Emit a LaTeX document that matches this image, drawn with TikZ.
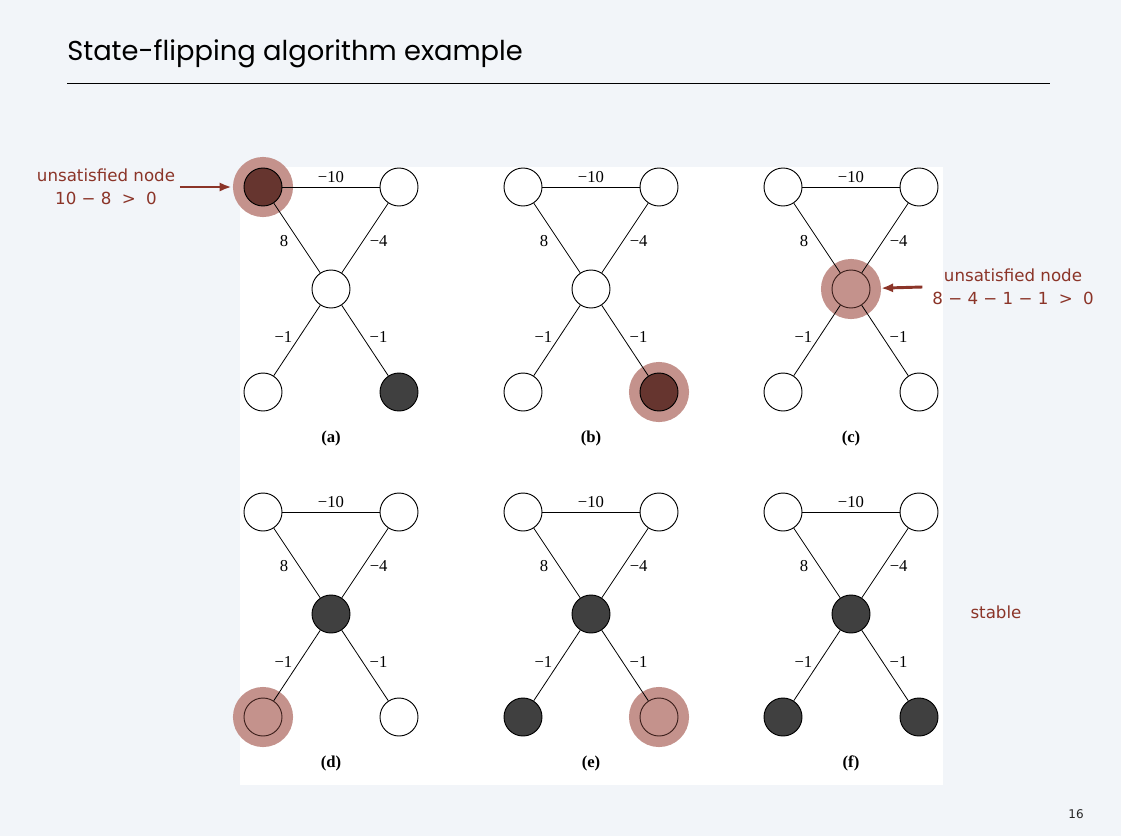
\documentclass[tikz,border=0pt]{standalone}
\usepackage{fontspec}
\setmainfont{Liberation Serif}
\newfontfamily\titlefont{Poppins}
\newfontfamily\notefont{DejaVu Sans}
\usetikzlibrary{arrows.meta}

\definecolor{bgc}{HTML}{F2F5F9}
\definecolor{haloc}{HTML}{C4928C}
\definecolor{darkc}{HTML}{404040}
\definecolor{udarkc}{HTML}{66352F}
\definecolor{notec}{HTML}{8B3428}

\tikzset{
  vert/.style={circle, draw=black, line width=0.7pt, minimum size=28.5pt, inner sep=0pt},
  wnode/.style={vert, fill=white},
  bnode/.style={vert, fill=darkc},
  udnode/.style={vert, fill=udarkc, preaction={draw=haloc, line width=16.5pt}},
  ulnode/.style={vert, fill=haloc, draw=udarkc!60!black, preaction={draw=haloc, line width=16.5pt}},
  edge/.style={line width=0.6pt},
  wt/.style={font=\fontsize{12.5}{14}\selectfont, inner sep=1pt},
  note/.style={text=notec, font=\notefont\fontsize{12.5}{17}\selectfont, align=center},
  notearrow/.style={draw=notec, line width=2.2pt, -{Latex[length=9pt,width=7pt]}},
}

\begin{document}
\begin{tikzpicture}[x=0.75pt,y=0.75pt,yscale=-1,xscale=1]
\useasboundingbox (0,0) rectangle (1121,836);
\fill[bgc] (0,0) rectangle (1121,836);

% Title
\node[anchor=base west, inner sep=0pt, font=\titlefont\fontsize{20.5}{24}\selectfont] (title) at (67,60) {State-flipping algorithm example};
\draw[line width=0.75pt] (67,83) -- (1050,83);

% white panel
\fill[white] (240,167) rectangle (943,785);

% six graphs
\foreach \p/\dx/\dy/\tl/\tr/\m/\bl/\br in {a/0/0/udnode/wnode/wnode/wnode/bnode,
    b/260/0/wnode/wnode/wnode/wnode/udnode, c/520/0/wnode/wnode/ulnode/wnode/wnode,
    d/0/325/wnode/wnode/bnode/ulnode/wnode, e/260/325/wnode/wnode/bnode/bnode/ulnode,
    f/520/325/wnode/wnode/bnode/bnode/bnode}{
  \begin{scope}[shift={(\dx,\dy)}]
  \node[\tl] (\p-tl) at (263,187) {};
  \node[\tr] (\p-tr) at (399,187) {};
  \node[\m] (\p-m) at (331,289) {};
  \node[\bl] (\p-bl) at (263,392) {};
  \node[\br] (\p-br) at (399,392) {};
  \draw[edge] (\p-tl) -- node[wt, above=2pt] {−10} (\p-tr);
  \draw[edge] (\p-tl) -- node[wt, left=7pt, pos=0.55] {8} (\p-m);
  \draw[edge] (\p-tr) -- node[wt, right=4pt, pos=0.55] {−4} (\p-m);
  \draw[edge] (\p-m) -- node[wt, left=4pt, pos=0.45] {−1} (\p-bl);
  \draw[edge] (\p-m) -- node[wt, right=4pt, pos=0.45] {−1} (\p-br);
  \node[wt, font=\bfseries\fontsize{12.5}{14}\selectfont] (\p-lab) at (331,438) {(\p)};
  \end{scope}
}

% annotations
\node[note] (note-a) at (106,187) {unsatisfied node\\10 − 8 \hspace{0.3em}>\hspace{0.3em} 0};
\draw[notearrow, shorten >=9pt] (note-a.east) -- (a-tl);
\node[note] (note-c) at (1013,287) {unsatisfied node\\8 − 4 − 1 − 1 \hspace{0.3em}>\hspace{0.3em} 0};
\draw[notearrow, shorten >=8pt] ([xshift=-4pt]note-c.west) -- (c-m);
\node[note] (stable) at (996,612) {stable};
\node[font=\notefont\fontsize{9}{10}\selectfont, text=black!85] (pagenum) at (1076,814) {16};

\end{tikzpicture}
\end{document}
